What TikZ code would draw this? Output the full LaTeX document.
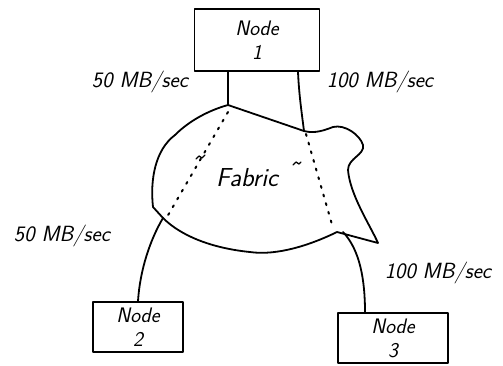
\documentclass[tikz,border=0pt]{standalone}
\usepackage{tikz}
\usetikzlibrary{calc}

\begin{document}
\begin{tikzpicture}[x=1pt,y=-1pt,
  line width=1.8pt, line join=round, line cap=round,
  box/.style={draw,minimum width=#1,align=center,inner sep=2pt,
    font=\sffamily\slshape\fontsize{21}{24}\selectfont},
  rate/.style={font=\sffamily\slshape\fontsize{22}{25}\selectfont},
  hidden/.style={line width=2pt,dash pattern=on 2pt off 7pt}
]
\useasboundingbox (0,0) rectangle (503,365);

% Fabric outline
\coordinate (fa) at (228,105);
\coordinate (fb) at (304,131);
\coordinate (fd) at (337,232);
\coordinate (fe) at (163,218);
\draw (fa) -- (fb) .. controls (315,134) and (325,130) .. (333,127)
  .. controls (345,124) and (360,135) .. (363,145)
  .. controls (365,155) and (348,158) .. (348,170)
  .. controls (350,195) and (370,225) .. (378,243) -- (fd)
  .. controls (300,250) and (270,255) .. (250,252)
  .. controls (210,248) and (180,235) .. (fe) -- (153,207)
  .. controls (150,180) and (155,150) .. (175,135)
  .. controls (190,120) and (210,110) .. (fa);
\node[font=\sffamily\slshape\fontsize{26}{28}\selectfont] (fab) at (247,178) {Fabric};
\draw[line width=1.3pt] (196,159) -- (199,156) -- (202,158) -- (205,155);
\draw[line width=1.3pt] (293,165) -- (296,162) -- (299,164) -- (301,162);

% Nodes
\node[box=125pt,minimum height=62pt] (n1) at (257,40) {Node\\1};
\node[box=90pt,minimum height=50pt] (n2) at (138,327) {Node\\2};
\node[box=110pt,minimum height=50pt] (n3) at (393,338) {Node\\3};

% Links
\draw (n1.south -| fa) -- (fa);
\draw ($(n1.south)+(41,0)$) .. controls (299,95) and (302,115) .. (fb);
\draw (fe) .. controls (150,240) and (140,270) .. (n2.north);
\draw ($(fd)+(6,0)$) .. controls (360,250) and (365,280) .. ($(n3.north)+(-28,0)$);

% Paths through the fabric
\draw[hidden] ($(fa)+(0,7)$) -- ($(fe)+(4,-1)$);
\draw[hidden] ($(fb)+(2,3)$) -- ($(fd)+(-4,-4)$);

% Rates
\node[rate] (r1) at (140,82) {50 MB/sec};
\node[rate] (r2) at (380,82) {100 MB/sec};
\node[rate] (r3) at (62,236) {50 MB/sec};
\node[rate] (r4) at (438,273) {100 MB/sec};
\end{tikzpicture}
\end{document}
